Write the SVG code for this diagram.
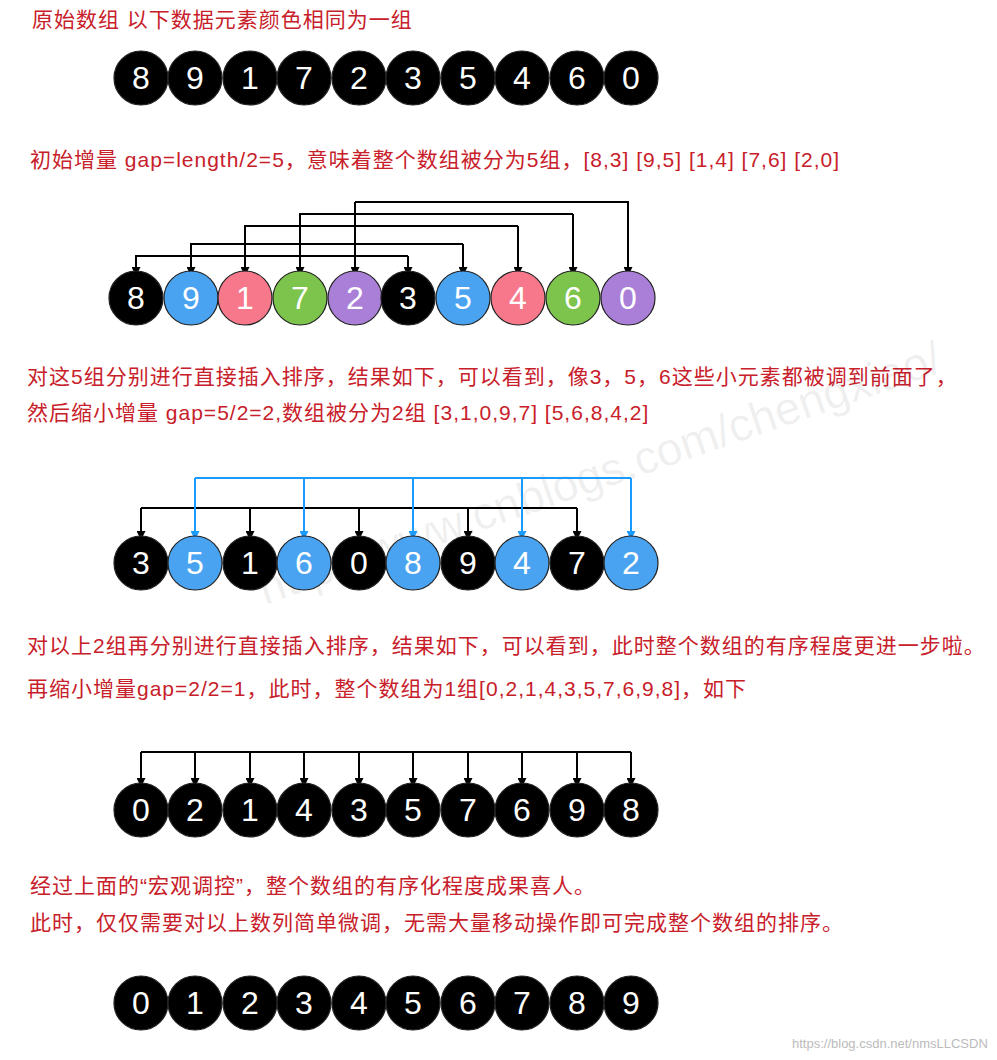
<svg xmlns="http://www.w3.org/2000/svg" width="997" height="1060" viewBox="0 0 997 1060">
<defs>
<marker id="a" viewBox="0 0 10 10" refX="10" refY="5" markerWidth="9" markerHeight="9" markerUnits="userSpaceOnUse" orient="auto"><path d="M0,0L10,5L0,10z" fill="#000"/></marker>
<marker id="b" viewBox="0 0 10 10" refX="10" refY="5" markerWidth="9" markerHeight="9" markerUnits="userSpaceOnUse" orient="auto"><path d="M0,0L10,5L0,10z" fill="#1a9bff"/></marker>
</defs>
<style>
.t{font-family:"Liberation Sans","Noto Sans CJK SC",sans-serif;font-size:21px;letter-spacing:1px;fill:#c8202a}
circle{stroke:#222;stroke-width:1.2}
.n{font-family:"Liberation Sans",Arial,sans-serif;font-size:32px;fill:#fff;text-anchor:middle;dominant-baseline:central}
.k{fill:#000}.bl{fill:#4aa3f0}.pk{fill:#f6788a}.gr{fill:#7cc44c}.pu{fill:#a97fd8}
.c path{fill:none;stroke:#000;stroke-width:2}
.c path.u{stroke:#1a9bff}
</style>
<text x="32" y="27" class="t">原始数组  以下数据元素颜色相同为一组</text>
<text x="30" y="167" class="t">初始增量 gap=length/2=5，意味着整个数组被分为5组，[8,3] [9,5] [1,4] [7,6] [2,0]</text>
<text x="27" y="384" class="t">对这5组分别进行直接插入排序，结果如下，可以看到，像3，5，6这些小元素都被调到前面了，</text>
<text x="27" y="420" class="t">然后缩小增量 gap=5/2=2,数组被分为2组 [3,1,0,9,7] [5,6,8,4,2]</text>
<text x="27" y="653" class="t">对以上2组再分别进行直接插入排序，结果如下，可以看到，此时整个数组的有序程度更进一步啦。</text>
<text x="27" y="696" class="t">再缩小增量gap=2/2=1，此时，整个数组为1组[0,2,1,4,3,5,7,6,9,8]，如下</text>
<text x="30" y="893" class="t">经过上面的“宏观调控”，整个数组的有序化程度成果喜人。</text>
<text x="30" y="930" class="t">此时，仅仅需要对以上数列简单微调，无需大量移动操作即可完成整个数组的排序。</text>
<text x="265" y="605" transform="rotate(-19 265 605)" font-family="Liberation Sans,sans-serif" font-size="46" fill="#000" fill-opacity="0.07">http://www.cnblogs.com/chengxiao/</text>
<text x="792" y="1048" font-family="Liberation Sans,sans-serif" font-size="13" fill="#bbb">https://blog.csdn.net/nmsLLCSDN</text>
<g class="c" id="connectors">
<path d="M408,256H136V276" marker-end="url(#a)"/><path d="M408,256V276" marker-end="url(#a)"/>
<path d="M463,244H191V276" marker-end="url(#a)"/><path d="M463,244V276" marker-end="url(#a)"/>
<path d="M518,226H245V276" marker-end="url(#a)"/><path d="M518,226V276" marker-end="url(#a)"/>
<path d="M573,214H300V276" marker-end="url(#a)"/><path d="M573,214V276" marker-end="url(#a)"/>
<path d="M355,202H628V276" marker-end="url(#a)"/><path d="M355,202V276" marker-end="url(#a)"/>
<path d="M141,508H577"/>
<path d="M141,508V540" marker-end="url(#a)"/><path d="M250,508V540" marker-end="url(#a)"/><path d="M359,508V540" marker-end="url(#a)"/><path d="M468,508V540" marker-end="url(#a)"/><path d="M577,508V540" marker-end="url(#a)"/>
<path class="u" d="M195,478H631"/>
<path class="u" d="M195,478V540" marker-end="url(#b)"/><path class="u" d="M304,478V540" marker-end="url(#b)"/><path class="u" d="M413,478V540" marker-end="url(#b)"/><path class="u" d="M522,478V540" marker-end="url(#b)"/><path class="u" d="M631,478V540" marker-end="url(#b)"/>
<path d="M141,752H631"/>
<path d="M141,752V787" marker-end="url(#a)"/><path d="M195,752V787" marker-end="url(#a)"/><path d="M250,752V787" marker-end="url(#a)"/><path d="M304,752V787" marker-end="url(#a)"/><path d="M359,752V787" marker-end="url(#a)"/><path d="M413,752V787" marker-end="url(#a)"/><path d="M468,752V787" marker-end="url(#a)"/><path d="M522,752V787" marker-end="url(#a)"/><path d="M577,752V787" marker-end="url(#a)"/><path d="M631,752V787" marker-end="url(#a)"/>
</g>
<g id="row1">
<circle cx="141" cy="78" r="27" class="k"/><text x="141" y="78" class="n">8</text>
<circle cx="195" cy="78" r="27" class="k"/><text x="195" y="78" class="n">9</text>
<circle cx="250" cy="78" r="27" class="k"/><text x="250" y="78" class="n">1</text>
<circle cx="304" cy="78" r="27" class="k"/><text x="304" y="78" class="n">7</text>
<circle cx="359" cy="78" r="27" class="k"/><text x="359" y="78" class="n">2</text>
<circle cx="413" cy="78" r="27" class="k"/><text x="413" y="78" class="n">3</text>
<circle cx="468" cy="78" r="27" class="k"/><text x="468" y="78" class="n">5</text>
<circle cx="522" cy="78" r="27" class="k"/><text x="522" y="78" class="n">4</text>
<circle cx="577" cy="78" r="27" class="k"/><text x="577" y="78" class="n">6</text>
<circle cx="631" cy="78" r="27" class="k"/><text x="631" y="78" class="n">0</text>
</g>
<g id="row2">
<circle cx="136" cy="298" r="27" class="k"/><text x="136" y="298" class="n">8</text>
<circle cx="191" cy="298" r="27" class="bl"/><text x="191" y="298" class="n">9</text>
<circle cx="245" cy="298" r="27" class="pk"/><text x="245" y="298" class="n">1</text>
<circle cx="300" cy="298" r="27" class="gr"/><text x="300" y="298" class="n">7</text>
<circle cx="355" cy="298" r="27" class="pu"/><text x="355" y="298" class="n">2</text>
<circle cx="408" cy="298" r="27" class="k"/><text x="408" y="298" class="n">3</text>
<circle cx="463" cy="298" r="27" class="bl"/><text x="463" y="298" class="n">5</text>
<circle cx="518" cy="298" r="27" class="pk"/><text x="518" y="298" class="n">4</text>
<circle cx="573" cy="298" r="27" class="gr"/><text x="573" y="298" class="n">6</text>
<circle cx="628" cy="298" r="27" class="pu"/><text x="628" y="298" class="n">0</text>
</g>
<g id="row3">
<circle cx="141" cy="563" r="27" class="k"/><text x="141" y="563" class="n">3</text>
<circle cx="195" cy="563" r="27" class="bl"/><text x="195" y="563" class="n">5</text>
<circle cx="250" cy="563" r="27" class="k"/><text x="250" y="563" class="n">1</text>
<circle cx="304" cy="563" r="27" class="bl"/><text x="304" y="563" class="n">6</text>
<circle cx="359" cy="563" r="27" class="k"/><text x="359" y="563" class="n">0</text>
<circle cx="413" cy="563" r="27" class="bl"/><text x="413" y="563" class="n">8</text>
<circle cx="468" cy="563" r="27" class="k"/><text x="468" y="563" class="n">9</text>
<circle cx="522" cy="563" r="27" class="bl"/><text x="522" y="563" class="n">4</text>
<circle cx="577" cy="563" r="27" class="k"/><text x="577" y="563" class="n">7</text>
<circle cx="631" cy="563" r="27" class="bl"/><text x="631" y="563" class="n">2</text>
</g>
<g id="row4">
<circle cx="141" cy="810" r="27" class="k"/><text x="141" y="810" class="n">0</text>
<circle cx="195" cy="810" r="27" class="k"/><text x="195" y="810" class="n">2</text>
<circle cx="250" cy="810" r="27" class="k"/><text x="250" y="810" class="n">1</text>
<circle cx="304" cy="810" r="27" class="k"/><text x="304" y="810" class="n">4</text>
<circle cx="359" cy="810" r="27" class="k"/><text x="359" y="810" class="n">3</text>
<circle cx="413" cy="810" r="27" class="k"/><text x="413" y="810" class="n">5</text>
<circle cx="468" cy="810" r="27" class="k"/><text x="468" y="810" class="n">7</text>
<circle cx="522" cy="810" r="27" class="k"/><text x="522" y="810" class="n">6</text>
<circle cx="577" cy="810" r="27" class="k"/><text x="577" y="810" class="n">9</text>
<circle cx="631" cy="810" r="27" class="k"/><text x="631" y="810" class="n">8</text>
</g>
<g id="row5">
<circle cx="141" cy="1003" r="27" class="k"/><text x="141" y="1003" class="n">0</text>
<circle cx="195" cy="1003" r="27" class="k"/><text x="195" y="1003" class="n">1</text>
<circle cx="250" cy="1003" r="27" class="k"/><text x="250" y="1003" class="n">2</text>
<circle cx="304" cy="1003" r="27" class="k"/><text x="304" y="1003" class="n">3</text>
<circle cx="359" cy="1003" r="27" class="k"/><text x="359" y="1003" class="n">4</text>
<circle cx="413" cy="1003" r="27" class="k"/><text x="413" y="1003" class="n">5</text>
<circle cx="468" cy="1003" r="27" class="k"/><text x="468" y="1003" class="n">6</text>
<circle cx="522" cy="1003" r="27" class="k"/><text x="522" y="1003" class="n">7</text>
<circle cx="577" cy="1003" r="27" class="k"/><text x="577" y="1003" class="n">8</text>
<circle cx="631" cy="1003" r="27" class="k"/><text x="631" y="1003" class="n">9</text>
</g>
</svg>
